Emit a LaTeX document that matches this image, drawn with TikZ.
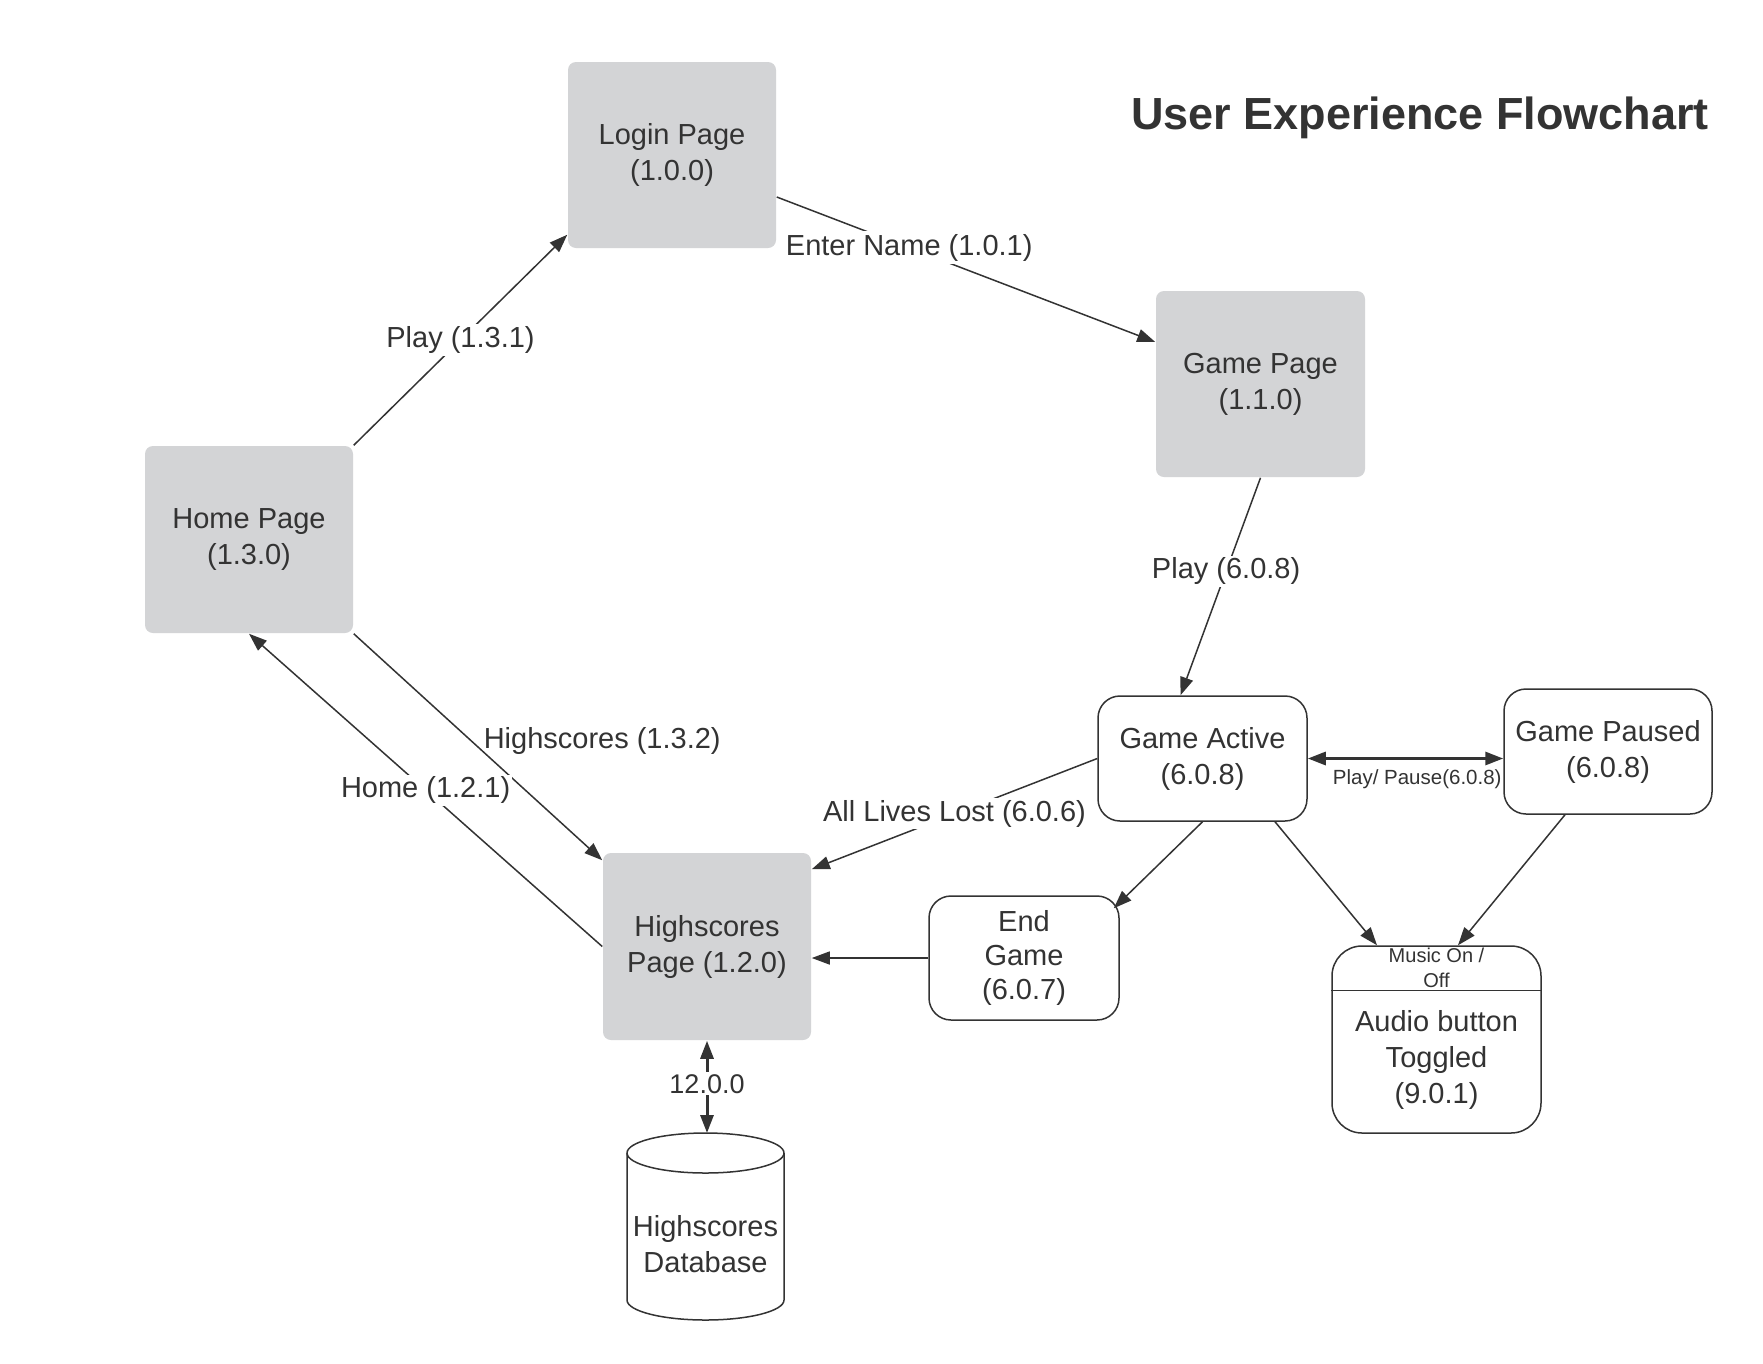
\documentclass[tikz,border=0pt]{standalone}
\usepackage{fontspec}
\setmainfont{Liberation Sans}
\usepackage{tikz}
\usetikzlibrary{arrows.meta}
\definecolor{ink}{HTML}{333333}
\definecolor{pagegrey}{HTML}{D3D4D6}

\begin{document}
\begin{tikzpicture}[x=1pt,y=-1pt,line join=round,line width=1.5pt,>={Triangle[length=18pt,width=13pt]},
  page/.style={fill=pagegrey,rounded corners=8pt,inner sep=0pt,align=center,text=ink,font=\fontsize{29}{36}\selectfont},
  state/.style={draw=ink,fill=white,rounded corners=22pt,inner sep=0pt,align=center,text=ink,font=\fontsize{29}{36}\selectfont},
  flow/.style={draw=ink,->},
  tag/.style={text=ink,inner sep=2pt,font=\fontsize{29}{36}\selectfont}]
\useasboundingbox[fill=white](0,0) rectangle (1763,1363);

\node[text=ink,font=\bfseries\fontsize{45}{54}\selectfont] (title) at (1420,117.5) {User Experience Flowchart};

% pages
\node[page,minimum width=208pt,minimum height=186pt] (login) at (672,155) {Login Page\\(1.0.0)};
\node[page,minimum width=209pt,minimum height=186pt] (game) at (1260.5,384) {Game Page\\(1.1.0)};
\node[page,minimum width=208pt,minimum height=187pt] (home) at (249,539.5) {Home Page\\(1.3.0)};
\node[page,minimum width=208pt,minimum height=187pt] (hs) at (707,946.5) {Highscores\\Page (1.2.0)};

% states
\node[state,minimum width=209pt,minimum height=125pt] (active) at (1202.5,758.5) {Game Active\\(6.0.8)};
\node[state,minimum width=208pt,minimum height=125pt] (paused) at (1608,751.5) {Game Paused\\(6.0.8)};
\node[state,minimum width=190pt,minimum height=124pt,font=\fontsize{29}{34}\selectfont] (endgame) at (1024,958) {\raisebox{3pt}{\parbox{180pt}{\centering End\\Game\\(6.0.7)}}};
\node[state,rounded corners=30pt,minimum width=209pt,minimum height=187pt] (audio) at (1436.5,1039.5) {};
\draw[ink] ([yshift=-45pt]audio.north west) -- ([yshift=-45pt]audio.north east);
\node[tag,align=center,font=\fontsize{20}{25}\selectfont] (audiohead) at ([yshift=-22.5pt]audio.north) {Music On /\\Off};
\node[tag,align=center] (audiotext) at (1436.5,1060) {Audio button\\Toggled\\(9.0.1)};

% database
\filldraw[draw=ink,fill=white](627,1153)--(627,1300) arc[start angle=180,end angle=0,x radius=78.5,y radius=20]--(784,1153);
\draw[ink](705.5,1153) ellipse [x radius=78.5,y radius=20];
\coordinate (dbtop) at (705.5,1133);
\node[tag,align=center] (db) at (705.5,1244) {Highscores\\Database};

% transitions
\draw[flow](home.north east)--node[tag,fill=white]{Play (1.3.1)}([yshift=14pt]login.south west);
\draw[flow]([yshift=-42pt]login.east)--node[tag,fill=white,pos=0.35,inner sep=3pt]{Enter Name (1.0.1)}([yshift=42pt]game.west);
\draw[flow](game.south)--node[tag,fill=white,pos=0.43]{Play (6.0.8)}([xshift=-22pt]active.north);
\draw[flow](home.south east)--node[tag,pos=0.5,anchor=west,xshift=3pt,yshift=6pt]{Highscores (1.3.2)}([yshift=-8pt]hs.north west);
\draw[flow](hs.west)--node[tag,fill=white]{Home (1.2.1)}(home.south);
\draw[flow](active.west)--node[tag,fill=white]{All Lives Lost (6.0.6)}([yshift=-17pt]hs.north east);
\draw[<->,draw=ink,line width=3pt](active.east)--node[pos=0.56,yshift=-21pt,text=ink,font=\fontsize{20.5}{25}\selectfont]{Play/ Pause(6.0.8)}(active.east -| paused.west);
\draw[flow](active.south)--([xshift=-6pt,yshift=-13pt]endgame.north east);
\draw[flow](endgame.west)--(endgame.west -| hs.east);
\draw[flow]([xshift=72.5pt]active.south)--([xshift=-59.5pt]audio.north);
\draw[flow]([xshift=-43pt]paused.south)--([xshift=21.5pt]audio.north);
\draw[<->,draw=ink,line width=3pt](hs.south)--node[tag,fill=white,yshift=3pt,font=\fontsize{27}{32}\selectfont]{12.0.0}(hs.south |- dbtop);
\end{tikzpicture}
\end{document}
